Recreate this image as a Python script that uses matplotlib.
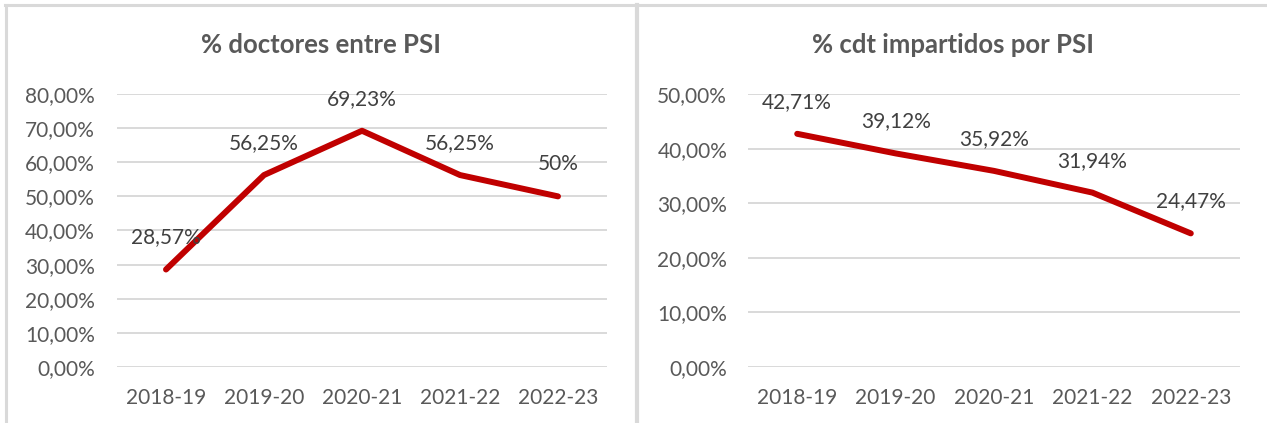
import matplotlib
matplotlib.use("Agg")
import matplotlib.pyplot as plt
from matplotlib.lines import Line2D

categories = ["2018-19", "2019-20", "2020-21", "2021-22", "2022-23"]
doctores = [28.57, 56.25, 69.23, 56.25, 50.00]
doctores_labels = ["28,57%", "56,25%", "69,23%", "56,25%", "50%"]
cdt = [42.71, 39.12, 35.92, 31.94, 24.47]
cdt_labels = ["42,71%", "39,12%", "35,92%", "31,94%", "24,47%"]
title_left = "% doctores entre PSI"
title_right = "% cdt impartidos por PSI"

W, H = 1267, 423
plt.rcParams['font.family'] = ['Lato', 'DejaVu Sans']
fig = plt.figure(figsize=(W / 100, H / 100), dpi=100)

TXT = "#595959"
LBL = "#404040"
GRID = "#d9d9d9"
RED = "#C00000"
FS = 15


def px_axes(x0, x1, ytop, ybot):
    return fig.add_axes([x0 / W, (H - ybot) / H, (x1 - x0) / W, (ybot - ytop) / H])


def fmt(v, pos):
    return f"{v:.2f}%".replace(".", ",")


def panel(ax, values, labels, ymax, title, cx, ypad):
    x = list(range(len(categories)))
    ax.plot(x, values, color=RED, lw=4.3, solid_capstyle="round", solid_joinstyle="round", zorder=3)
    ax.set_xlim(-0.5, len(categories) - 0.5)
    ax.set_ylim(0, ymax)
    ax.set_yticks(range(0, ymax + 1, 10))
    ax.yaxis.set_major_formatter(matplotlib.ticker.FuncFormatter(fmt))
    ax.set_xticks(x)
    ax.set_xticklabels(categories)
    ax.grid(axis="y", color=GRID, lw=1.4)
    ax.set_axisbelow(True)
    for s in ax.spines.values():
        s.set_visible(False)
    ax.tick_params(length=0, labelsize=FS, colors=TXT)
    ax.tick_params(axis="y", pad=ypad)
    ax.tick_params(axis="x", pad=15)
    for xi, v, lab in zip(x, values, labels):
        ax.annotate(lab, (xi, v), xytext=(0, 32), textcoords="offset pixels",
                    ha="center", va="center", fontsize=FS, color=LBL, zorder=4)
    fig.text(cx / W, (H - 45) / H, title, ha="center", va="center",
             fontsize=18.5, fontweight="bold", color=TXT)


axL = px_axes(117, 607, 94, 367)
panel(axL, doctores, doctores_labels, 80, title_left, 321, 16)
axR = px_axes(748, 1240, 94, 367)
panel(axR, cdt, cdt_labels, 50, title_right, 953, 15)

# panel borders
def hline(x0, x1, y, lw=2.2):
    fig.add_artist(Line2D([x0 / W, x1 / W], [(H - y) / H, (H - y) / H], color=GRID, lw=lw, transform=fig.transFigure))

def vline(x, y0, y1, lw=2.2):
    fig.add_artist(Line2D([x / W, x / W], [(H - y0) / H, (H - y1) / H], color=GRID, lw=lw, transform=fig.transFigure))

hline(5, W, 5.5)
vline(6, 5, H)
vline(637, 5, H, lw=3)

fig.savefig("out.png", dpi=100, facecolor="white")
